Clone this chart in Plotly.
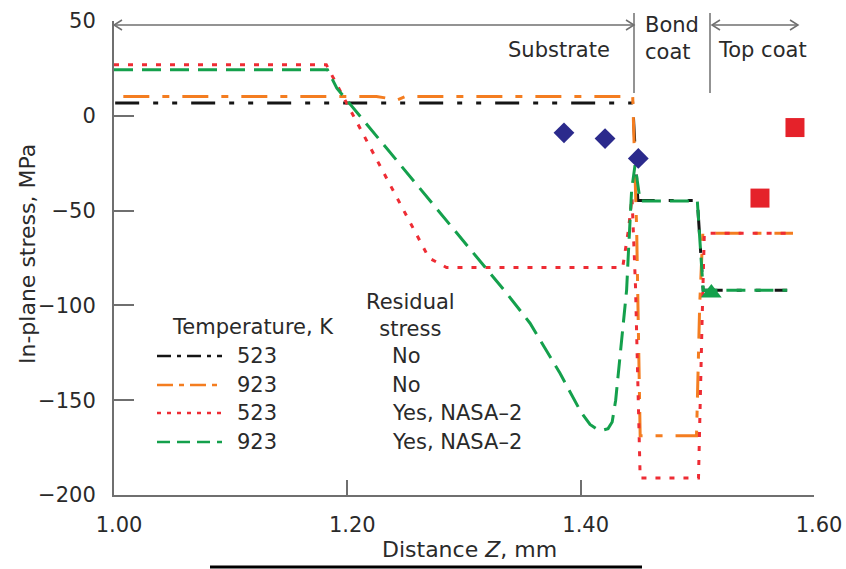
import plotly.graph_objects as go

# ---------------- data ----------------
x_523_no = [1.001, 1.4446, 1.449, 1.500, 1.505, 1.577]
y_523_no = [6.7, 6.7, -44.7, -44.7, -92.0, -92.0]

x_923_no = [1.008, 1.225, 1.243, 1.250, 1.4446, 1.448, 1.451, 1.4993, 1.502, 1.5047, 1.582]
y_923_no = [10.2, 10.2, 8.4, 10.2, 10.2, -60.0, -168.7, -168.7, -100.0, -62.0, -62.0]

x_523_yes = [1.000, 1.182, 1.270, 1.285, 1.436, 1.441, 1.444, 1.447, 1.451, 1.501, 1.504, 1.506, 1.582]
y_523_yes = [26.9, 26.9, -75.0, -80.0, -80.0, -60.0, -43.0, -90.0, -191.0, -191.0, -110.0, -62.0, -62.0]

x_923_yes = [1.000, 1.183, 1.191, 1.3366, 1.3566, 1.3823, 1.4000, 1.4080, 1.4140, 1.4190,
             1.4235, 1.4270, 1.4300, 1.4337, 1.4394, 1.4409, 1.4437, 1.4466, 1.451,
             1.500, 1.505, 1.577]
y_923_yes = [24.3, 24.3, 14.6, -93.6, -109.4, -135.8, -156.0, -162.8, -165.3, -165.8,
             -165.0, -161.5, -150.0, -127.0, -91.8, -72.5, -39.0, -26.0, -45.0,
             -45.0, -92.0, -92.0]

x_diamond = [1.3857, 1.4209, 1.4494]
y_diamond = [-9.0, -12.0, -22.5]
x_square = [1.5537, 1.5837]
y_square = [-43.4, -6.2]
x_triangle = [1.512]
y_triangle = [-93.5]

x_ticks = [1.00, 1.20, 1.40, 1.60]
y_ticks = [-200, -150, -100, -50, 0, 50]

legend_temps = ["523", "923", "523", "923"]
legend_resid = ["No", "No", "Yes, NASA\u20132", "Yes, NASA\u20132"]

# ---------------- styles ----------------
BLACK = "#151515"
ORANGE = "#f47d20"
RED = "#ee2c34"
GREEN = "#14a04c"
NAVY = "#2b2a8c"
SQRED = "#e5222a"
AXIS = "#6f6f6f"
TXT = "#2a2a2a"
FONT = "DejaVu Sans"

dash_black = "24px,14px,5px,14px,5px,14px"
dash_orange = "26px,13px,7px,13px"
dash_red = "5px,9px"
dash_green = "19px,9px"

series = [
    (x_523_no, y_523_no, BLACK, dash_black),
    (x_923_no, y_923_no, ORANGE, dash_orange),
    (x_523_yes, y_523_yes, RED, dash_red),
    (x_923_yes, y_923_yes, GREEN, dash_green),
]

fig = go.Figure()
for xs, ys, col, dash in series:
    fig.add_trace(go.Scatter(x=xs, y=ys, mode="lines",
                             line=dict(color=col, width=3, dash=dash),
                             showlegend=False, hoverinfo="skip"))

fig.add_trace(go.Scatter(x=x_diamond, y=y_diamond, mode="markers",
                         marker=dict(symbol="diamond", size=16, color=NAVY),
                         showlegend=False))
fig.add_trace(go.Scatter(x=x_square, y=y_square, mode="markers",
                         marker=dict(symbol="square", size=19, color=SQRED),
                         showlegend=False))
fig.add_trace(go.Scatter(x=x_triangle, y=y_triangle, mode="markers",
                         marker=dict(symbol="triangle-up", size=18, color=GREEN),
                         showlegend=False))

W, H = 846, 569
L, R, T, B = 114, 814, 21, 495


def PX(px):
    return (px - L) / (R - L)


def PY(py):
    return (B - py) / (B - T)


shapes = []
annotations = []


def seg(x0, y0, x1, y1, color=AXIS, width=1.5, dash="solid"):
    shapes.append(dict(type="line", xref="paper", yref="paper",
                       x0=PX(x0), y0=PY(y0), x1=PX(x1), y1=PY(y1),
                       line=dict(color=color, width=width, dash=dash)))


def chevron(xtip, ytip, direction):
    d = 8 * direction
    path = "M {},{} L {},{} L {},{}".format(PX(xtip + d), PY(ytip - 5), PX(xtip), PY(ytip),
                                           PX(xtip + d), PY(ytip + 5))
    shapes.append(dict(type="path", xref="paper", yref="paper", path=path,
                       line=dict(color=AXIS, width=1.5)))


def text(px, py, s, size=20, xanchor="center", align="center"):
    annotations.append(dict(xref="paper", yref="paper", x=PX(px), y=PY(py), text=s,
                            showarrow=False, xanchor=xanchor, yanchor="middle",
                            align=align, font=dict(family=FONT, size=size, color=TXT)))


# region markers at top
seg(114, 25, 634, 25)
chevron(114, 25, 1)
chevron(634, 25, -1)
seg(634, 13, 634, 93)
seg(710, 13, 710, 93)
seg(712, 25, 798, 25)
chevron(712, 25, 1)
chevron(798, 25, -1)
text(559, 50, "Substrate", size=21)
text(643, 39, "Bond<br>coat", size=21, xanchor="left", align="left")
text(762, 50, "Top coat", size=21)

# custom legend
text(253, 327, "Temperature, K", size=21)
text(410, 315, "Residual<br>stress", size=21)
legend_rows = [356, 385, 413, 442]
legend_styles = [(BLACK, "14px,6px,4px,6px"), (ORANGE, "16px,6px,5px,6px"),
                 (RED, "4px,6px"), (GREEN, "13px,7px")]
for ry, (col, dsh), t, r in zip(legend_rows, legend_styles, legend_temps, legend_resid):
    seg(157, ry, 222, ry, color=col, width=2.5, dash=dsh)
    text(235, ry, t, size=21, xanchor="left")
    text(390, ry, r, size=21, xanchor="left")

# axis titles
annotations.append(dict(xref="paper", yref="paper", x=PX(27), y=PY(254), text="In-plane stress, MPa",
                        textangle=-90, showarrow=False, xanchor="center", yanchor="middle",
                        font=dict(family=FONT, size=22, color=TXT)))
text(469, 549, "Distance <i>Z</i>, mm", size=22)

# underline below
seg(210, 567, 642, 567, color="#000000", width=3)

fig.update_layout(
    width=W, height=H,
    margin=dict(l=L, r=W - R, t=T, b=H - B, pad=0, autoexpand=False),
    paper_bgcolor="white", plot_bgcolor="white",
    shapes=shapes, annotations=annotations,
    font=dict(family=FONT, color=TXT),
    showlegend=False,
)
fig.update_xaxes(range=[1.0, 1.6], tickvals=x_ticks, tickformat=".2f",
                 ticks="inside", ticklen=15, tickwidth=1.5, tickcolor=AXIS,
                 showline=True, linecolor=AXIS, linewidth=2, showgrid=False, zeroline=False,
                 tickfont=dict(family=FONT, size=21, color=TXT), automargin=False,
                 ticklabelstandoff=10, ticklabelshift=5)
fig.update_yaxes(range=[-200, 50], tickvals=y_ticks,
                 ticks="inside", ticklen=20, tickwidth=1.5, tickcolor=AXIS,
                 showline=True, linecolor=AXIS, linewidth=2, showgrid=False, zeroline=False,
                 tickfont=dict(family=FONT, size=21, color=TXT), automargin=False,
                 ticklabelstandoff=12)

fig.write_html("out.html", config={"displayModeBar": False})

# remove the browser's default body margin so the figure fills the window exactly
with open("out.html", "r", encoding="utf-8") as fh:
    html = fh.read()
html = html.replace("<body>", '<body style="margin:0;padding:0;overflow:hidden">', 1)
with open("out.html", "w", encoding="utf-8") as fh:
    fh.write(html)
